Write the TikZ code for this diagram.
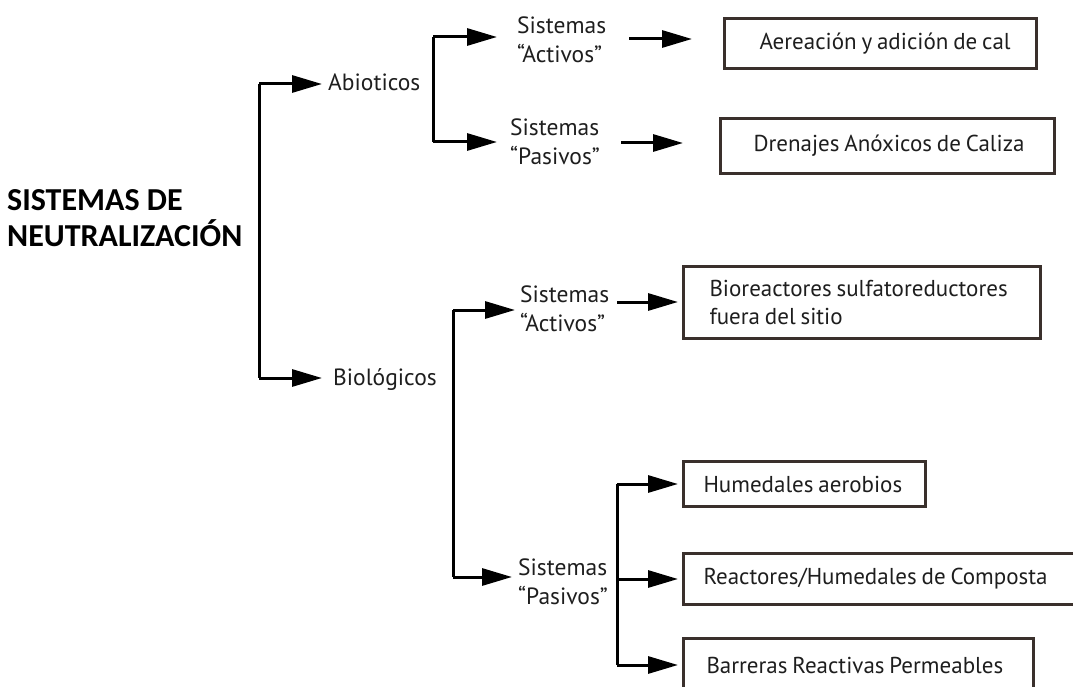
\documentclass[tikz,border=0pt]{standalone}
\usepackage{fontspec}
\setmainfont{PT Sans}
\newfontfamily\titlefont{Carlito}
\usetikzlibrary{arrows.meta}
\definecolor{boxline}{HTML}{3A302C}
\definecolor{txt}{HTML}{1E1E1E}
\newcommand\boxfnt{\fontsize{23}{28}\selectfont}
\newcommand\tightsp{\spaceskip=0.21em plus 0.1em minus 0.05em\relax}
\begin{document}
\begin{tikzpicture}[x=1pt,y=-1pt,
  conn/.style={line width=3pt, black},
  arr/.style={conn, -{Triangle[length=30pt,width=17pt]}},
  lbl/.style={font=\fontsize{23.5}{29}\selectfont, text=txt, inner sep=0pt, align=left},
  boxnode/.style={draw=boxline, line width=3pt, font=\boxfnt, text=txt,
     anchor=north west, align=left, inner xsep=0pt, inner ysep=0pt}
]
\useasboundingbox (0,0) rectangle (1073,687);
\clip (0,0) rectangle (1073,687);

% title
\node[anchor=west, align=left, inner sep=0pt, font=\titlefont\bfseries\fontsize{32}{36}\selectfont, text=black]
  (title) at (7,218) {SISTEMAS DE\\NEUTRALIZACIÓN};

% level 1 labels
\node[lbl, anchor=base west] (abio) at (328,91) {Abioticos};
\node[lbl, anchor=base west] (bio) at (333,385) {Biológicos};

% level 2 labels
\node[lbl, anchor=west] (sa1) at (517,39.5) {Sistemas\\``Activos''};
\node[lbl, anchor=west] (sp1) at (510,141.5) {Sistemas\\``Pasivos''};
\node[lbl, anchor=west] (sa2) at (520,308.5) {Sistemas\\``Activos''};
\node[lbl, anchor=west] (sp2) at (518,582) {Sistemas\\``Pasivos''};

% boxes
\node[boxnode, minimum width=312pt, minimum height=50pt, text width=312pt] (box1) at (723,17)
  {\tightsp\hspace*{35pt}Aereación y adición de cal};
\node[boxnode, minimum width=334pt, minimum height=55pt, text width=334pt] (box2) at (719,117)
  {\tightsp\hspace*{33pt}Drenajes Anóxicos de Caliza};
\node[boxnode, minimum width=357pt, minimum height=72pt, text width=357pt] (box3) at (682,265)
  {\tightsp\hspace*{26pt}Bioreactores sulfatoreductores\\\hspace*{26pt}fuera del sitio};
\node[boxnode, minimum width=242pt, minimum height=45pt, text width=242pt] (box4) at (682,460)
  {\tightsp\hspace*{20pt}Humedales aerobios};
\node[boxnode, minimum width=410pt, minimum height=51pt, text width=410pt] (box5) at (682,552)
  {\tightsp\hspace*{20pt}Reactores/Humedales de Composta};
\node[boxnode, minimum width=350pt, minimum height=53pt, text width=350pt] (box6) at (682,637)
  {\tightsp\hspace*{23pt}Barreras Reactivas Permeables};

% main trunk
\coordinate (t1) at (259,84);
\coordinate (t2) at (259,378);
\draw[conn] (t1) -- (t2);
\draw[arr, shorten >=6pt] (t1) -- (t1 -| abio.west);
\draw[arr, shorten >=11pt] (t2) -- (t2 -| bio.west);

% abioticos bracket
\coordinate (a1) at (433,37);
\coordinate (a2) at (433,142);
\draw[conn] (a1) -- (a2);
\draw[arr, shorten >=20pt] (a1) -- (a1 -| sa1.west);
\draw[arr, shorten >=13pt] (a2) -- (a2 -| sp1.west);

% abioticos -> boxes
\coordinate (s1) at (629,39);
\coordinate (s2) at (621,143);
\draw[arr, shorten >=31pt] (s1) -- (s1 -| box1.west);
\draw[arr, shorten >=36pt] (s2) -- (s2 -| box2.west);

% biologicos bracket
\coordinate (b1) at (453,310);
\coordinate (b2) at (453,577);
\draw[conn] (b1) -- (b2);
\draw[arr, shorten >=5pt] (b1) -- (b1 -| sa2.west);
\draw[arr, shorten >=6pt] (b2) -- (b2 -| sp2.west);

\coordinate (s3) at (617,302);
\draw[arr, shorten >=4pt] (s3) -- (s3 -| box3.west);

% pasivos bracket
\coordinate (p0) at (617,577);
\draw[conn] (p0 |- box4.west) -- (p0 |- box6.west);
\draw[arr, shorten >=4pt] (p0 |- box4.west) -- (box4.west);
\draw[arr, shorten >=4pt] (p0 |- box5.west) -- (box5.west);
\draw[arr, shorten >=4pt] (p0 |- box6.west) -- (box6.west);
\end{tikzpicture}
\end{document}
